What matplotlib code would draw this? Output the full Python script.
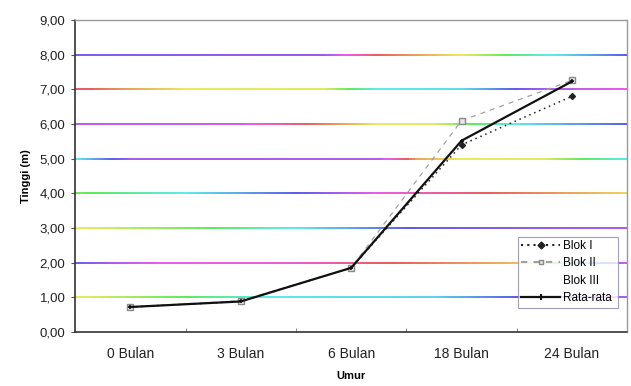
import colorsys
import numpy as np
import matplotlib
matplotlib.use('Agg')
from matplotlib import pyplot as plt
from matplotlib.collections import LineCollection
from matplotlib.lines import Line2D

plt.rcParams['font.family'] = ['Liberation Sans', 'DejaVu Sans']

# Data
umur = ['0 Bulan', '3 Bulan', '6 Bulan', '18 Bulan', '24 Bulan']
blok_1 = [0.72, 0.88, 1.85, 5.40, 6.80]
blok_2 = [0.72, 0.90, 1.85, 6.10, 7.26]
blok_3 = [0.72, 0.86, 1.85, 5.05, 7.60]
rata_rata = [0.72, 0.88, 1.85, 5.52, 7.23]
y_ticks = [0, 1, 2, 3, 4, 5, 6, 7, 8, 9]

# hue stops (position along the line, hue in degrees) for each gridline
grid_hues = {
    1: [(0, 60), (0.2, 120), (0.35, 180), (0.65, 190), (0.8, 240), (1, 275)],
    2: [(0, 250), (0.15, 300), (0.4, 310), (0.55, 355), (0.8, 400), (1, 650)],
    3: [(0, 60), (0.25, 120), (0.4, 180), (0.6, 240), (1, 275)],
    4: [(0, 110), (0.2, 180), (0.4, 240), (0.55, 300), (0.75, 360), (1, 410)],
    5: [(0, 180), (0.1, 270), (0.55, 275), (0.62, 390), (0.7, 420), (0.85, 425), (1, 540)],
    6: [(0, 280), (0.3, 290), (0.42, 360), (0.55, 420), (0.65, 425), (0.72, 480), (0.8, 540), (1, 600)],
    7: [(0, 350), (0.1, 390), (0.2, 420), (0.45, 425), (0.55, 540), (0.7, 545), (0.85, 630), (1, 660)],
    8: [(0, 255), (0.45, 265), (0.55, 360), (0.7, 420), (0.85, 530), (1, 600)],
}

fig = plt.figure(figsize=(6.31, 3.86), dpi=100)
ax = fig.add_axes([0.119, 0.140, 0.875, 0.808])

x = np.arange(len(umur))
ax.set_xlim(-0.5, len(umur) - 0.5)
ax.set_ylim(0, 9)

# rainbow-tinted horizontal gridlines
n_seg = 200
xs = np.linspace(-0.5, len(umur) - 0.5, n_seg + 1)
for level, stops in grid_hues.items():
    pos = [s[0] for s in stops]
    hue = [s[1] for s in stops]
    t = np.linspace(0, 1, n_seg)
    h = (np.interp(t, pos, hue) % 360) / 360.0
    cols = [colorsys.hsv_to_rgb(hh, 0.62, 0.92) for hh in h]
    segs = [[(xs[i], level), (xs[i + 1], level)] for i in range(n_seg)]
    ax.add_collection(LineCollection(segs, colors=cols, linewidths=1.4, zorder=1))

# Blok III is plotted in white, so it stays hidden
ax.plot(x, blok_3, color='white', linewidth=0.8, zorder=0.5, label='Blok III')
ax.plot(x, blok_1, color='#222222', linestyle=(0, (1, 2.5)), linewidth=1.1,
        marker='D', markersize=3, markevery=[3, 4], zorder=3, label='Blok I')
ax.plot(x, blok_2, color='#a0a0a0', linestyle=(0, (4, 4)), linewidth=0.9,
        marker='s', markersize=4.5, markerfacecolor='#e8e8e8', markeredgecolor='#888888',
        zorder=3, label='Blok II')
ax.plot(x, rata_rata, color='#111111', linewidth=1.6, marker='+', markersize=3.5,
        markeredgewidth=1.2, zorder=4, label='Rata-rata')

# axes frame
for side in ['left', 'bottom']:
    ax.spines[side].set_linestyle((0, (1, 1)))
    ax.spines[side].set_color('#333333')
    ax.spines[side].set_linewidth(1.2)
for side in ['top', 'right']:
    ax.spines[side].set_linestyle((0, (1, 1)))
    ax.spines[side].set_color('#999999')
    ax.spines[side].set_linewidth(1.0)

ax.set_yticks(y_ticks)
ax.set_yticklabels([f'{v:.2f}'.replace('.', ',') for v in y_ticks], fontsize=9.5, color='#222222')
ax.set_xticks(x)
ax.set_xticklabels(umur, fontsize=10, color='#222222')
ax.tick_params(axis='x', length=0, pad=11)
ax.tick_params(axis='y', length=3, width=0.8, color='#555555', pad=4)
ax.set_xticks(np.arange(0.5, len(umur) - 1), minor=True)
ax.tick_params(axis='x', which='minor', length=3, color='#777777', direction='in')

ax.set_xlabel('Umur', fontsize=8, fontweight='bold', labelpad=7)
ax.set_ylabel('Tinggi (m)', fontsize=8, fontweight='bold', labelpad=6)

handles = [
    Line2D([], [], color='#222222', linestyle=(0, (1, 2)), marker='D', markersize=3.5),
    Line2D([], [], color='#a0a0a0', linestyle=(0, (3, 3)), marker='s', markersize=3.5,
           markerfacecolor='#e8e8e8', markeredgecolor='#888888'),
    Line2D([], [], color='white', linestyle='none'),
    Line2D([], [], color='#111111', linewidth=1.6, marker='+', markersize=5, markeredgewidth=1.5),
]
leg = ax.legend(handles, ['Blok I', 'Blok II', 'Blok III', 'Rata-rata'],
                loc='lower left', bbox_to_anchor=(0.802, 0.078, 0.182, 0.25),
                mode='expand', fontsize=8.5, frameon=True, fancybox=False,
                handlelength=3.3, handletextpad=0.2, borderpad=0.3,
                labelspacing=0.45, borderaxespad=0)
leg.get_frame().set_edgecolor('#8888aa')
leg.get_frame().set_linewidth(0.8)
leg.set_zorder(5)

fig.savefig('out.png', dpi=100)
